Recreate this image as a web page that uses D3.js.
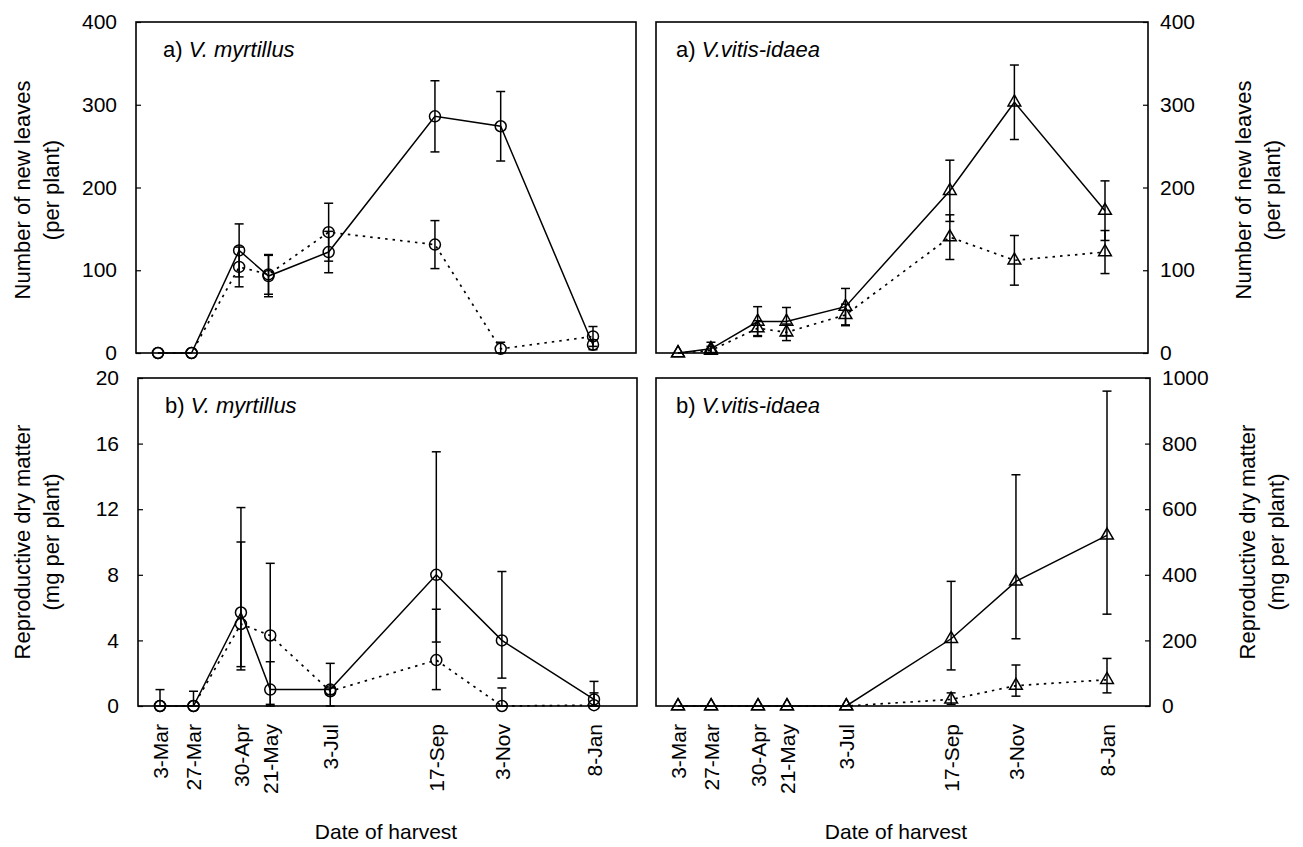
<!DOCTYPE html>
<html>
<head>
<meta charset="utf-8">
<script src="https://cdn.jsdelivr.net/npm/d3@7"></script>
<style>
  body { margin: 0; background: #fff; }
  svg text { font-family: "Liberation Sans", Arial, sans-serif; fill: #000; }
</style>
</head>
<body>
<svg id="chart" width="1303" height="847"></svg>
<script>
// harvest dates (tick labels) and the same dates as real dates
var dateLabels = ["3-Mar", "27-Mar", "30-Apr", "21-May", "3-Jul", "17-Sep", "3-Nov", "8-Jan"];
var harvestDates = ["1997-03-03", "1997-03-27", "1997-04-30", "1997-05-21",
                    "1997-07-03", "1997-09-17", "1997-11-03", "1998-01-08"].map(d3.timeParse("%Y-%m-%d"));

// a) number of new leaves, V. myrtillus (mean, +/- error)
var myrLeavesSolid     = [0, 0, 124, 93, 122, 286, 274, 10];
var myrLeavesSolidErr  = [0, 0, 32, 25, 25, 43, 42, 6];
var myrLeavesDotted    = [0, 0, 104, 95, 146, 131, 5, 20];
var myrLeavesDottedErr = [0, 0, 24, 24, 35, 29, 8, 12];

// a) number of new leaves, V. vitis-idaea
var vitLeavesSolid     = [0, 5, 38, 38, 56, 196, 303, 172];
var vitLeavesSolidErr  = [0, 8, 18, 17, 22, 37, 45, 36];
var vitLeavesDotted    = [0, 3, 30, 25, 46, 140, 112, 122];
var vitLeavesDottedErr = [0, 5, 9, 10, 13, 27, 30, 26];

// b) reproductive dry matter, V. myrtillus (mean, lower and upper end of bar)
var myrReproSolid      = [0, 0, 5.7, 1.0, 1.0, 8.0, 4.0, 0.4];
var myrReproSolidLo    = [0, 0, 2.4, 0, 0, 3.9, 1.7, 0];
var myrReproSolidHi    = [1.0, 0.9, 12.1, 2.7, 2.6, 15.5, 8.2, 1.5];
var myrReproDotted     = [0, 0, 5.0, 4.3, 0.9, 2.8, 0, 0.05];
var myrReproDottedLo   = [0, 0, 2.2, 0.1, 0.7, 1.0, 0, 0];
var myrReproDottedHi   = [0, 0, 10.0, 8.7, 1.1, 5.9, 1.1, 0.8];

// b) reproductive dry matter, V. vitis-idaea
var vitReproSolid      = [0, 0, 0, 0, 0, 205, 380, 520];
var vitReproSolidLo    = [0, 0, 0, 0, 0, 110, 205, 280];
var vitReproSolidHi    = [0, 0, 0, 0, 0, 380, 705, 960];
var vitReproDotted     = [0, 0, 0, 0, 0, 20, 62, 80];
var vitReproDottedLo   = [0, 0, 0, 0, 0, 5, 30, 40];
var vitReproDottedHi   = [0, 0, 0, 0, 0, 40, 125, 145];

var leafTicks = [0, 100, 200, 300, 400];
var myrReproTicks = [0, 4, 8, 12, 16, 20];
var vitReproTicks = [0, 200, 400, 600, 800, 1000];

var svg = d3.select("#chart");

function symErr(values, err) {
    return {
        values: values,
        lo: values.map((v, i) => v - err[i]),
        hi: values.map((v, i) => v + err[i])
    };
}

function drawPanel(p) {
    var g = svg.append("g");

    var x = d3.scaleTime()
        .domain([harvestDates[0], harvestDates[harvestDates.length - 1]])
        .range([p.x0 + 22, p.x1 - 43]);

    var y = d3.scaleLinear()
        .domain([0, p.ticks[p.ticks.length - 1]])
        .range([p.y1, p.y0]);

    // y axis, ticks pointing into the box
    var yAxis = p.side == "left"
        ? d3.axisLeft(y).tickSize(-5).tickPadding(19)
        : d3.axisRight(y).tickSize(-5).tickPadding(12);
    yAxis.tickValues(p.ticks).tickFormat(d3.format("d"));

    var ya = g.append("g")
        .attr("transform", `translate(${p.side == "left" ? p.x0 : p.x1},0)`)
        .call(yAxis);
    ya.select(".domain").remove();
    ya.selectAll("line").attr("stroke", "#000").attr("stroke-width", 1.2);
    ya.selectAll("text").attr("font-size", 21).attr("fill", "#000")
        .style("font-family", "'Liberation Sans', Arial, sans-serif");

    if (p.showX) {
        var xa = g.append("g")
            .attr("transform", `translate(0,${p.y1})`)
            .call(d3.axisBottom(x).tickValues(harvestDates)
                .tickFormat((d, i) => dateLabels[i]).tickSize(0));
        xa.select(".domain").remove();
        xa.selectAll("text")
            .attr("transform", "rotate(-90)")
            .attr("x", -18)
            .attr("y", 0)
            .attr("dy", "0.35em")
            .attr("font-size", 21)
            .attr("fill", "#000")
            .style("text-anchor", "end")
            .style("font-family", "'Liberation Sans', Arial, sans-serif");
    }

    // frame
    g.append("rect")
        .attr("x", p.x0).attr("y", p.y0)
        .attr("width", p.x1 - p.x0).attr("height", p.y1 - p.y0)
        .attr("fill", "none").attr("stroke", "#000").attr("stroke-width", 1.6);

    var line = d3.line()
        .x((d, i) => x(harvestDates[i]))
        .y(d => y(d));

    p.series.forEach(s => {
        g.append("path")
            .datum(s.values)
            .attr("d", line)
            .attr("fill", "none")
            .attr("stroke", "#000")
            .attr("stroke-width", s.dotted ? 1.7 : 1.5)
            .attr("stroke-dasharray", s.dotted ? "2.5,5" : null);
    });

    // error bars
    p.series.forEach(s => {
        s.values.forEach((v, i) => {
            var lo = Math.max(0, s.lo[i]), hi = s.hi[i];
            if (hi - lo <= 0) return;
            var cx = x(harvestDates[i]);
            g.append("line")
                .attr("x1", cx).attr("x2", cx)
                .attr("y1", y(lo)).attr("y2", y(hi))
                .attr("stroke", "#000").attr("stroke-width", 1.5);
            [lo, hi].forEach(e => {
                g.append("line")
                    .attr("x1", cx - 4.5).attr("x2", cx + 4.5)
                    .attr("y1", y(e)).attr("y2", y(e))
                    .attr("stroke", "#000").attr("stroke-width", 1.5);
            });
        });
    });

    // markers
    p.series.forEach(s => {
        var pts = g.selectAll(null)
            .data(s.values)
            .enter();
        if (p.marker == "circle") {
            pts.append("circle")
                .attr("cx", (d, i) => x(harvestDates[i]))
                .attr("cy", d => y(d))
                .attr("r", 5.5)
                .attr("fill", "none")
                .attr("stroke", "#000")
                .attr("stroke-width", 1.5);
        } else {
            pts.append("path")
                .attr("d", d3.symbol(d3.symbolTriangle, 70))
                .attr("transform", (d, i) => `translate(${x(harvestDates[i])},${y(d)})`)
                .attr("fill", "none")
                .attr("stroke", "#000")
                .attr("stroke-width", 1.5);
        }
    });

    // panel label
    var lab = g.append("text")
        .attr("x", p.x0 + p.labelDx)
        .attr("y", p.y0 + 35)
        .attr("font-size", 22);
    lab.append("tspan").text(p.letter + ") ");
    lab.append("tspan").attr("font-style", "italic").text(p.species);
}

// left column
drawPanel({
    x0: 136, x1: 636, y0: 22, y1: 353, ticks: leafTicks, side: "left",
    marker: "circle", letter: "a", species: "V. myrtillus", labelDx: 27, showX: false,
    series: [
        Object.assign(symErr(myrLeavesSolid, myrLeavesSolidErr), { dotted: false }),
        Object.assign(symErr(myrLeavesDotted, myrLeavesDottedErr), { dotted: true })
    ]
});
drawPanel({
    x0: 138, x1: 637, y0: 378, y1: 706, ticks: myrReproTicks, side: "left",
    marker: "circle", letter: "b", species: "V. myrtillus", labelDx: 27, showX: true,
    series: [
        { values: myrReproSolid, lo: myrReproSolidLo, hi: myrReproSolidHi, dotted: false },
        { values: myrReproDotted, lo: myrReproDottedLo, hi: myrReproDottedHi, dotted: true }
    ]
});

// right column
drawPanel({
    x0: 656, x1: 1148, y0: 22, y1: 353, ticks: leafTicks, side: "right",
    marker: "triangle", letter: "a", species: "V.vitis-idaea", labelDx: 20, showX: false,
    series: [
        Object.assign(symErr(vitLeavesSolid, vitLeavesSolidErr), { dotted: false }),
        Object.assign(symErr(vitLeavesDotted, vitLeavesDottedErr), { dotted: true })
    ]
});
drawPanel({
    x0: 656, x1: 1150, y0: 378, y1: 706, ticks: vitReproTicks, side: "right",
    marker: "triangle", letter: "b", species: "V.vitis-idaea", labelDx: 20, showX: true,
    series: [
        { values: vitReproSolid, lo: vitReproSolidLo, hi: vitReproSolidHi, dotted: false },
        { values: vitReproDotted, lo: vitReproDottedLo, hi: vitReproDottedHi, dotted: true }
    ]
});

// axis titles
function vTitle(cx, cy, lines) {
    lines.forEach((t, i) => {
        svg.append("text")
            .attr("transform", `translate(${cx + i * 29},${cy}) rotate(-90)`)
            .attr("text-anchor", "middle")
            .attr("dy", "0.35em")
            .attr("font-size", 22)
            .text(t);
    });
}
vTitle(22, 190, ["Number of new leaves", "(per plant)"]);
vTitle(22, 542, ["Reproductive dry matter", "(mg per plant)"]);
vTitle(1243, 190, ["Number of new leaves", "(per plant)"]);
vTitle(1247, 542, ["Reproductive dry matter", "(mg per plant)"]);

svg.append("text").attr("x", 386).attr("y", 839).attr("text-anchor", "middle")
    .attr("font-size", 21).text("Date of harvest");
svg.append("text").attr("x", 896).attr("y", 839).attr("text-anchor", "middle")
    .attr("font-size", 21).text("Date of harvest");
</script>
</body>
</html>
